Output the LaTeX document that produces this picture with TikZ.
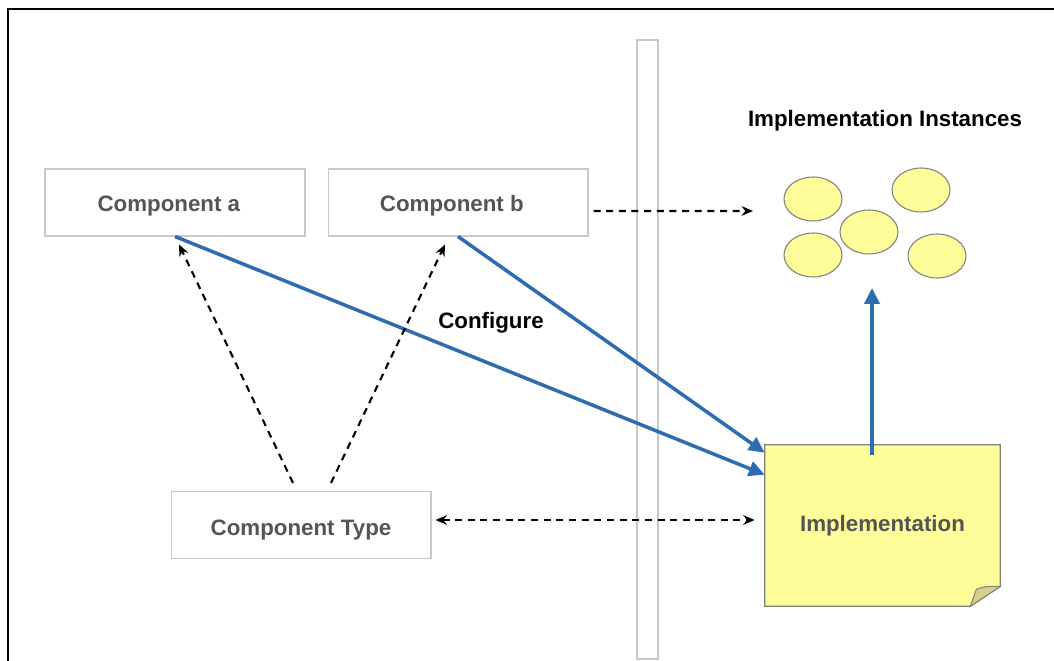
\documentclass[tikz,border=0pt]{standalone}
\usepackage{fontspec}
\setmainfont{Liberation Sans}
\usetikzlibrary{arrows.meta, shapes.geometric, backgrounds}
\usetikzlibrary{calc}

\definecolor{txtgrey}{RGB}{85,85,85}
\definecolor{boxgrey}{RGB}{200,200,200}
\definecolor{noteyellow}{RGB}{255,253,153}
\definecolor{foldyellow}{RGB}{214,209,138}
\definecolor{cfgblue}{RGB}{46,108,178}

\begin{document}
\begin{tikzpicture}[x=0.02cm, y=-0.02cm,
        comp/.style={draw=boxgrey, line width=0.6pt, minimum width=5.2cm, minimum height=1.34cm,
            text height=12.8pt, text depth=2.7pt,
            text=txtgrey, font=\fontsize{12.7}{15}\selectfont\bfseries},
        inst/.style={ellipse, draw=gray, fill=noteyellow, line width=0.6pt, inner sep=0pt,
            minimum width=1.16cm, minimum height=0.88cm},
        cfg/.style={-{Triangle[length=9pt,width=8.5pt]}, cfgblue, line width=2pt},
        dep/.style={dashed, dash pattern=on 4pt off 3.2pt, line width=1.2pt,
            >={Stealth[length=6.5pt,width=5.5pt]}},
        lbl/.style={font=\fontsize{12.7}{15}\selectfont\bfseries}]

        \useasboundingbox (0,0) rectangle (1054,661);
        \draw[line width=1.2pt] (8,661) -- (8,9) -- (1054,9);
        \draw[boxgrey, line width=0.8pt, fill=white] (637,40) rectangle (658,659);

        \node[comp] (a) at (175,202.5) {Component a\hspace*{7pt}};
        \node[comp] (b) at (458,202.5) {Component b\hspace*{7pt}};
        \node[comp, text height=14.5pt] (type) at (301,525) {Component Type};

        % implementation note
        \node[lbl, text=txtgrey, minimum width=4.7cm, minimum height=3.22cm] (impl) at (882.5,525.5) {Implementation};
        \begin{scope}[on background layer]
            \filldraw[fill=noteyellow, draw=gray, line width=0.7pt] (impl.north west) -- (impl.north east)
                -- ($(impl.south east)+(0,-20)$) -- ($(impl.south east)+(-30,0)$) -- (impl.south west) -- cycle;
            \filldraw[fill=foldyellow, draw=gray, line width=0.6pt] ($(impl.south east)+(-30,0)$)
                -- ($(impl.south east)+(-24,-17)$) .. controls ($(impl.south east)+(-15,-20)$) .. ($(impl.south east)+(0,-20)$) -- cycle;
        \end{scope}

        \node[lbl] (insttitle) at (885,121) {Implementation Instances};
        \node[inst] (i1) at (813,199) {};
        \node[inst] (i2) at (921,190) {};
        \node[inst] (i3) at (869,232) {};
        \node[inst] (i4) at (813,255) {};
        \node[inst] (i5) at (937,256) {};

        \coordinate (tb) at ($(impl.north west)+(0,8)$);
        \coordinate (ta) at ($(impl.north west)+(0,30)$);
        \coordinate (iup) at (872,288);
        \coordinate (iin) at (753,211);

        \draw[cfg] (a.south) -- (ta);
        \draw[cfg] (b.south) -- (tb);
        \draw[cfg] ($(impl.north)+(-10.5,10)$) -- (iup);
        \node[lbl] (cfglbl) at (491,323) {Configure};

        \draw[dep,->] ($(type.north)+(-8,-8)$) -- ($(a.south)+(4,8)$);
        \draw[dep,->] ($(type.north)+(30,-8)$) -- ($(b.south)+(-13,8)$);
        \draw[dep,->] ($(b.east)+(5,8.5)$) -- (iin);
        \draw[dep,<->] ($(type.east)+(4,-5)$) -- ($(impl.west)+(-10,-5.5)$);

    \end{tikzpicture}
\end{document}
